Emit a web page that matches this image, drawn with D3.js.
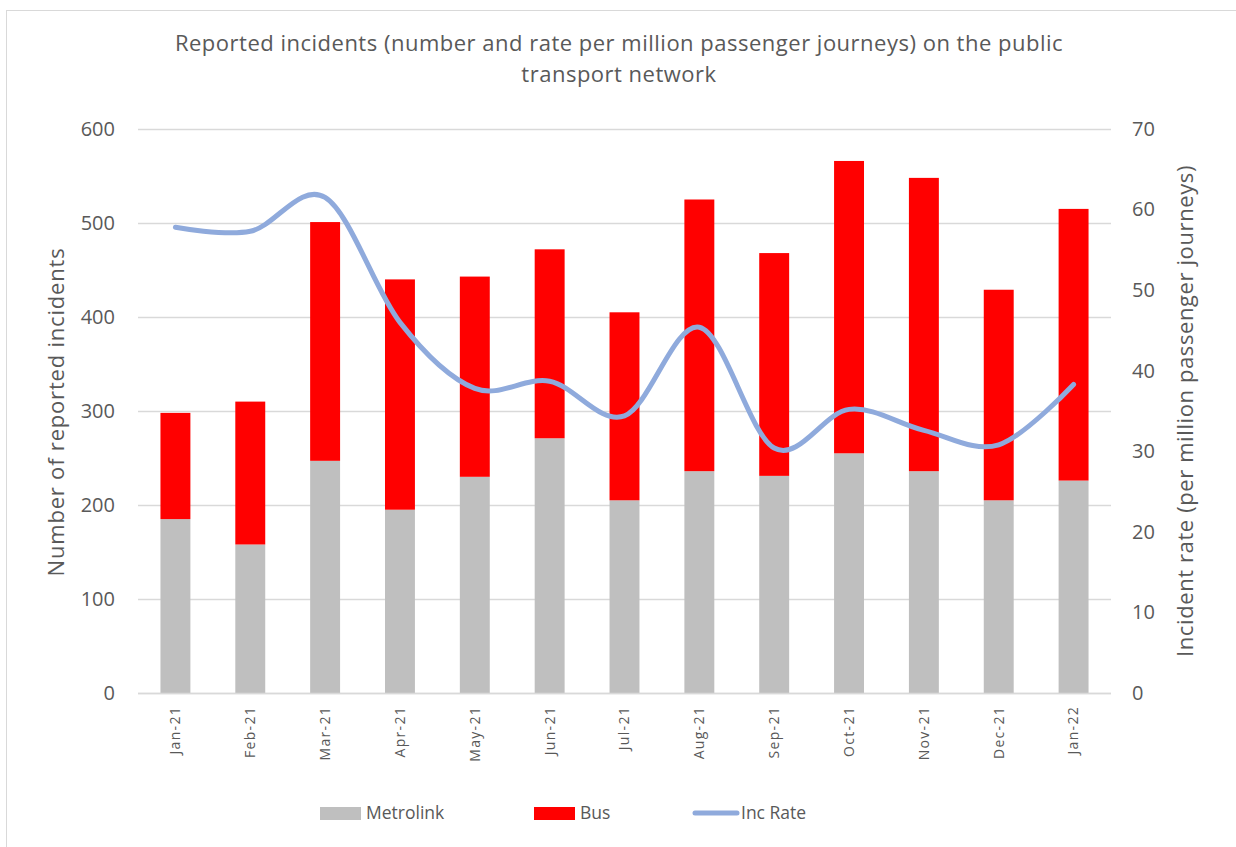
<!DOCTYPE html>
<html>
<head>
<meta charset="utf-8">
<script src="https://cdn.jsdelivr.net/npm/d3@7"></script>
<style>
body{margin:0;background:#fff;}
text{font-family:"Open Sans","Noto Sans",sans-serif;fill:#595959;}
</style>
</head>
<body>
<svg id="chart" width="1236" height="847"></svg>
<script>
// data
var months=["Jan-21","Feb-21","Mar-21","Apr-21","May-21","Jun-21","Jul-21","Aug-21","Sep-21","Oct-21","Nov-21","Dec-21","Jan-22"];
var metrolink=[185,158,247,195,230,271,205,236,231,255,236,205,226];
var bus=[113,152,254,245,213,201,200,289,237,311,312,224,289];
var incRate=[57.8,57.3,61.5,46,37.8,38.7,34.4,45.4,30.4,35.2,32.6,30.8,38.3];
var leftTicks=[0,100,200,300,400,500,600];
var rightTicks=[0,10,20,30,40,50,60,70];

var svg=d3.select("#chart");
var pLeft=138,pRight=1111,pTop=129,pBottom=693;

//边框
svg.append("rect")
    .attr("x",6.5).attr("y",10.5)
    .attr("width",1240).attr("height",850)
    .attr("fill","none").attr("stroke","#d9d9d9");

var x=d3.scaleBand().domain(months).range([pLeft,pRight]).paddingInner(0.6).paddingOuter(0.3);
var yL=d3.scaleLinear().domain([0,600]).range([pBottom,pTop]);
var yR=d3.scaleLinear().domain([0,70]).range([pBottom,pTop]);

// gridlines
svg.append("g").selectAll("line")
    .data(leftTicks)
    .enter().append("line")
    .attr("x1",pLeft).attr("x2",pRight)
    .attr("y1",function(d){return yL(d)+0.5;})
    .attr("y2",function(d){return yL(d)+0.5;})
    .attr("stroke","#d9d9d9").attr("stroke-width",1.5);

// left axis
var axL=svg.append("g").attr("transform","translate("+(pLeft-23)+",0)")
    .call(d3.axisLeft(yL).tickValues(leftTicks).tickSize(0).tickPadding(0));
axL.select(".domain").remove();
axL.selectAll("text").style("font-size","20px").attr("fill","#595959");

// right axis
var axR=svg.append("g").attr("transform","translate("+(pRight+21)+",0)")
    .call(d3.axisRight(yR).tickValues(rightTicks).tickSize(0).tickPadding(0));
axR.select(".domain").remove();
axR.selectAll("text").style("font-size","20px").attr("fill","#595959");

// x axis labels
var axX=svg.append("g").attr("transform","translate(0,"+(pBottom+13)+")")
    .call(d3.axisBottom(x).tickSize(0).tickPadding(0));
axX.select(".domain").remove();
axX.selectAll("text")
    .style("font-size","14px")
    .style("letter-spacing","1.3px")
    .attr("fill","#595959")
    .attr("transform","rotate(-90)")
    .attr("text-anchor","end")
    .attr("dy","0.35em")
    .attr("x",0).attr("y",0);

// stacked bars
var stackData=months.map(function(m,i){return {month:m,Metrolink:metrolink[i],Bus:bus[i]};});
var series=d3.stack().keys(["Metrolink","Bus"])(stackData);
var colors={"Metrolink":"#bfbfbf","Bus":"#ff0000"};
svg.append("g").selectAll("g")
    .data(series)
    .enter().append("g")
    .attr("fill",function(d){return colors[d.key];})
    .selectAll("rect")
    .data(function(d){return d;})
    .enter().append("rect")
    .attr("x",function(d){return x(d.data.month);})
    .attr("width",x.bandwidth())
    .attr("y",function(d){return yL(d[1]);})
    .attr("height",function(d){return yL(d[0])-yL(d[1]);});

// baseline
svg.append("line")
    .attr("x1",pLeft).attr("x2",pRight)
    .attr("y1",pBottom+0.5).attr("y2",pBottom+0.5)
    .attr("stroke","#d9d9d9").attr("stroke-width",1.5);

// rate line (smoothed like Excel)
var line=d3.line()
    .x(function(d,i){return x(months[i])+x.bandwidth()/2;})
    .y(function(d){return yR(d);})
    .curve(d3.curveCatmullRom.alpha(0));
svg.append("path")
    .datum(incRate)
    .attr("d",line)
    .attr("fill","none")
    .attr("stroke","#8faadc")
    .attr("stroke-width",5)
    .attr("stroke-linecap","round");

// title
var title=svg.append("text")
    .attr("text-anchor","middle")
    .style("font-size","22px")
    .style("letter-spacing","0.5px");
title.append("tspan").attr("x",619).attr("y",51).text("Reported incidents (number and rate per million passenger journeys) on the public");
title.append("tspan").attr("x",619).attr("y",82).text("transport network");

// axis titles
svg.append("text")
    .attr("transform","translate(64,412) rotate(-90)")
    .attr("text-anchor","middle")
    .style("font-size","22px")
    .style("letter-spacing","0.8px")
    .text("Number of reported incidents");
svg.append("text")
    .attr("transform","translate(1193,411) rotate(-90)")
    .attr("text-anchor","middle")
    .style("font-size","22px")
    .style("letter-spacing","0.6px")
    .text("Incident rate (per million passenger journeys)");

// legend
var lg=svg.append("g").attr("transform","translate(0,813)");
lg.append("rect").attr("x",320).attr("y",-6).attr("width",41).attr("height",13).attr("fill","#bfbfbf");
lg.append("text").attr("x",366).attr("y",0).attr("dy","0.35em").style("font-size","17.5px").text("Metrolink");
lg.append("rect").attr("x",534).attr("y",-6).attr("width",41).attr("height",13).attr("fill","#ff0000");
lg.append("text").attr("x",580).attr("y",0).attr("dy","0.35em").style("font-size","17.5px").text("Bus");
lg.append("line").attr("x1",695).attr("x2",737).attr("y1",0).attr("y2",0)
    .attr("stroke","#8faadc").attr("stroke-width",5).attr("stroke-linecap","round");
lg.append("text").attr("x",741).attr("y",0).attr("dy","0.35em").style("font-size","17.5px").text("Inc Rate");
</script>
</body>
</html>
